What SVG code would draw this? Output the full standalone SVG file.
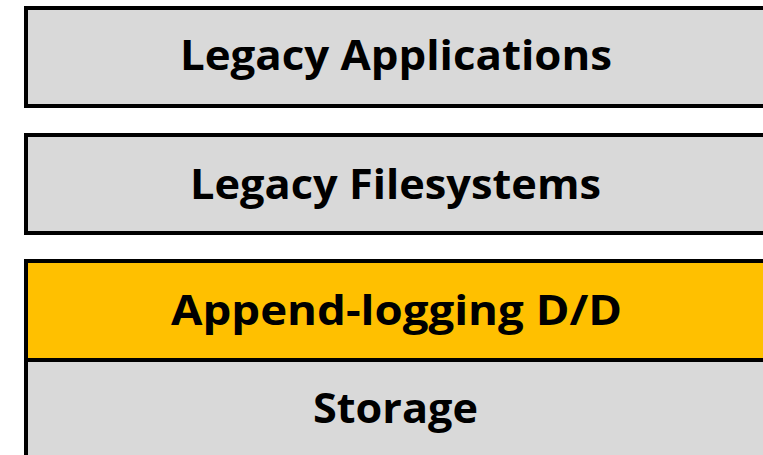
<svg xmlns="http://www.w3.org/2000/svg" width="763" height="455" viewBox="0 0 763 455">
  <style>
    .layer { stroke: #000000; stroke-width: 4; }
    .grey { fill: #D9D9D9; }
    .gold { fill: #FFC000; }
    .label { font-family: "Open Sans", "Liberation Sans", sans-serif; font-weight: 700; font-size: 41px; fill: #000000; text-anchor: middle; font-variant-ligatures: none; }
  </style>
  <rect width="763" height="455" fill="#FFFFFF"/>
  <g id="legacy-applications">
    <rect class="layer grey" x="26" y="8" width="760" height="98"/>
    <text class="label" x="396" y="70" textLength="432" lengthAdjust="spacingAndGlyphs">Legacy Applications</text>
  </g>
  <g id="legacy-filesystems">
    <rect class="layer grey" x="26" y="135" width="760" height="98"/>
    <text class="label" x="395.5" y="199" textLength="411" lengthAdjust="spacingAndGlyphs">Legacy Filesystems</text>
  </g>
  <g id="append-logging">
    <rect class="layer gold" x="26" y="261" width="760" height="99"/>
    <text class="label" x="396.5" y="325" textLength="451" lengthAdjust="spacingAndGlyphs">Append-logging D/D</text>
  </g>
  <g id="storage">
    <rect class="layer grey" x="26" y="360" width="760" height="120"/>
    <text class="label" x="395.5" y="423" textLength="165" lengthAdjust="spacingAndGlyphs">Storage</text>
  </g>
  <g id="connectors"></g>
</svg>
